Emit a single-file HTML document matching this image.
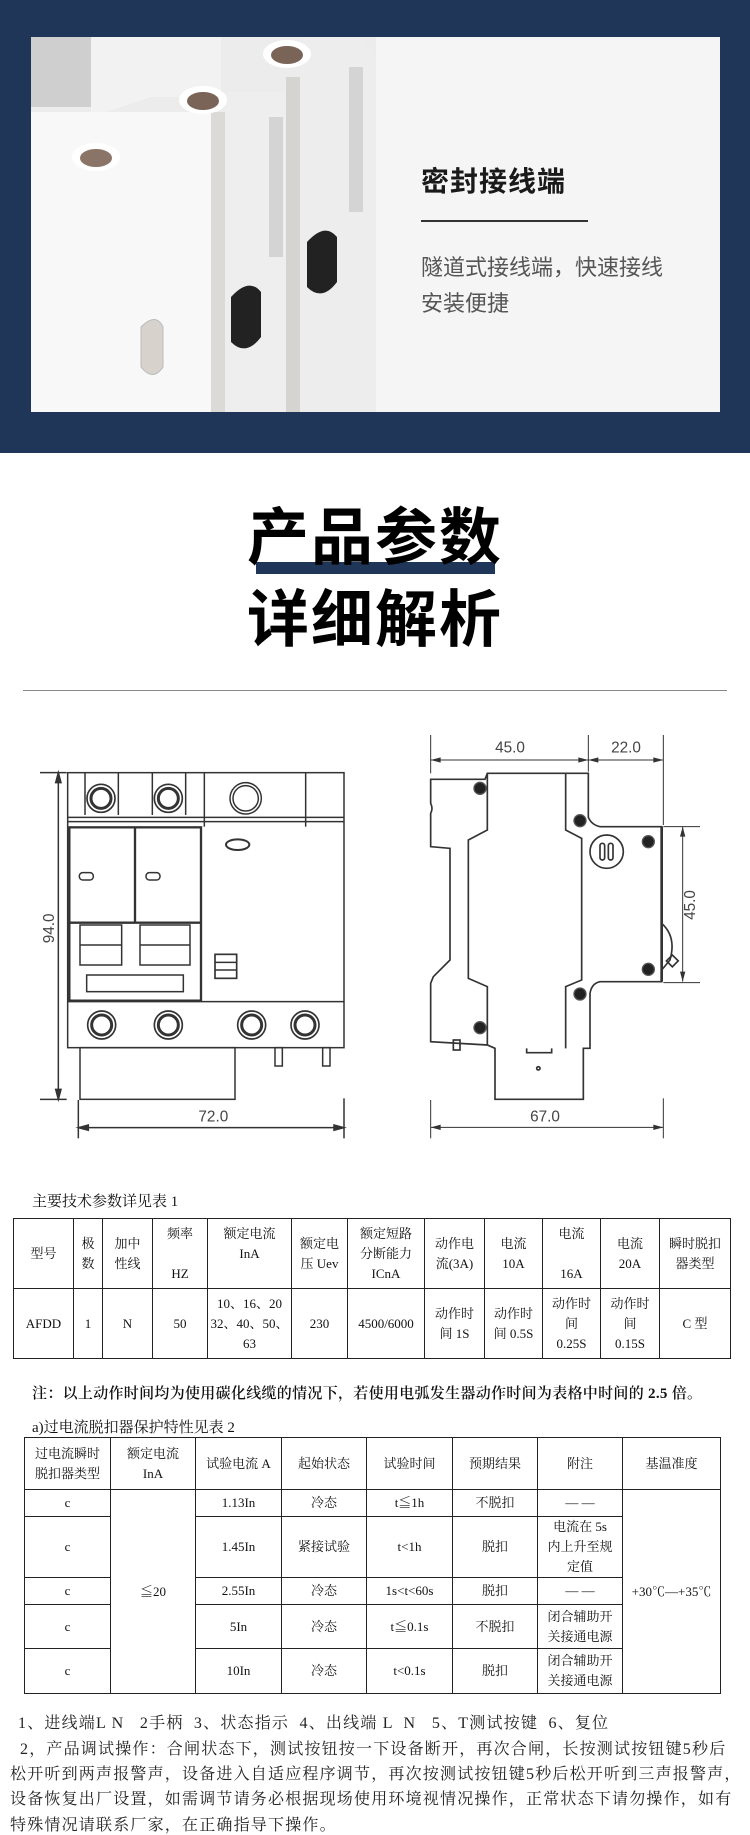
<!DOCTYPE html>
<html><head><meta charset="utf-8">
<style>
*{margin:0;padding:0;box-sizing:border-box}
body{width:750px;height:1832px;position:relative;background:#fff;font-family:"Liberation Serif","Noto Serif CJK SC",serif;color:#111;overflow:hidden}
.abs{position:absolute}
table{border-collapse:collapse;table-layout:fixed;position:absolute}
td{border:1.5px solid #222;text-align:center;vertical-align:middle;font-size:13px;line-height:20px;padding:0;white-space:nowrap}
.sans{font-family:"Liberation Sans","Noto Sans CJK SC",sans-serif}
.txt{position:absolute;white-space:nowrap;font-size:16px;letter-spacing:1.2px;color:#222}
</style></head><body>
<!-- top banner -->
<div class="abs" style="left:0;top:0;width:750px;height:453px;background:#1f3658"></div>
<div class="abs" style="left:31px;top:37px;width:689px;height:375px;background:#f5f5f5"></div>
<svg class="abs" style="left:31px;top:37px" width="345" height="375" viewBox="0 0 345 375">
 <rect x="0" y="0" width="345" height="375" fill="#ececec"/>
 <rect x="0" y="0" width="60" height="70" fill="#cfcfcf"/>
 <polygon points="60,0 190,0 190,60 120,60 60,80" fill="#f2f2f2"/>
 <polygon points="0,75 180,75 180,375 0,375" fill="#f8f8f8"/>
 <rect x="180" y="75" width="14" height="300" fill="#dcdad7"/>
 <polygon points="194,55 255,55 255,375 194,375" fill="#eeeeee"/>
 <rect x="238" y="80" width="14" height="140" fill="#d4d4d4"/>
 <rect x="255" y="40" width="14" height="335" fill="#d6d4d1"/>
 <polygon points="269,0 330,0 345,20 345,375 269,375" fill="#ededed"/>
 <rect x="318" y="30" width="14" height="145" fill="#d4d4d4"/>
 <ellipse cx="256" cy="17" rx="24" ry="14" fill="#fff"/><ellipse cx="256" cy="18" rx="16" ry="9" fill="#7a6458"/>
 <ellipse cx="172" cy="63" rx="24" ry="14" fill="#fff"/><ellipse cx="172" cy="64" rx="16" ry="9" fill="#7a6458"/>
 <ellipse cx="65" cy="120" rx="24" ry="14" fill="#fff"/><ellipse cx="65" cy="121" rx="16" ry="9" fill="#8a7468"/>
 <path d="M200 260 q18 -20 30 -5 v45 q-15 20 -30 5z" fill="#222"/>
 <path d="M276 205 q18 -20 30 -5 v45 q-15 20 -30 5z" fill="#222"/>
 <path d="M110 290 q15 -15 22 0 v40 q-10 15 -22 0z" fill="#d8d2cc" stroke="#bbb"/>
</svg>
<div class="abs sans" style="left:421px;top:160px;font-size:28px;font-weight:bold;color:#1a1a1a;letter-spacing:1px">密封接线端</div>
<div class="abs" style="left:421px;top:220px;width:167px;height:2px;background:#333"></div>
<div class="abs sans" style="left:421px;top:250px;font-size:22px;color:#555;line-height:36px">隧道式接线端，快速接线<br>安装便捷</div>

<!-- title -->
<div class="abs" style="left:256px;top:562px;width:239px;height:12px;background:#1f3658"></div>
<div class="abs sans" style="left:0;width:750px;top:502px;text-align:center;font-size:62px;font-weight:bold;line-height:74px;letter-spacing:2px;color:#000">产品参数</div>
<div class="abs sans" style="left:0;width:750px;top:584px;text-align:center;font-size:62px;font-weight:bold;line-height:74px;letter-spacing:2px;color:#000">详细解析</div>
<div class="abs" style="left:23px;top:690px;width:704px;height:1px;background:#888"></div>

<!-- left drawing -->
<svg class="abs" style="left:40px;top:730px" width="330" height="420" viewBox="0 0 990 1260" fill="none" stroke="#333" stroke-width="4.5">
 <rect x="83" y="128" width="829" height="825"/>
 <line x1="83" y1="262" x2="912" y2="262"/><line x1="83" y1="275" x2="912" y2="275"/>
 <line x1="493" y1="128" x2="493" y2="290"/><line x1="797" y1="128" x2="797" y2="290"/>
 <line x1="135" y1="128" x2="135" y2="255"/><line x1="235" y1="128" x2="235" y2="255"/>
 <line x1="337" y1="128" x2="337" y2="255"/><line x1="437" y1="128" x2="437" y2="255"/>
 <rect x="88" y="292" width="395" height="520" stroke-width="7"/>
 <line x1="285" y1="292" x2="285" y2="578" stroke-width="7"/>
 <line x1="88" y1="578" x2="483" y2="578" stroke-width="7"/>
 <rect x="120" y="585" width="125" height="120"/><rect x="300" y="585" width="150" height="120"/>
 <line x1="120" y1="645" x2="245" y2="645"/><line x1="300" y1="645" x2="450" y2="645"/>
 <rect x="140" y="735" width="290" height="50"/>
 <rect x="118" y="428" width="42" height="22" rx="10"/><rect x="318" y="428" width="42" height="22" rx="10"/>
 <ellipse cx="593" cy="344" rx="35" ry="16" stroke-width="6"/>
 <rect x="525" y="673" width="65" height="72" stroke-width="5"/>
 <line x1="525" y1="697" x2="590" y2="697"/><line x1="525" y1="720" x2="590" y2="720"/>
 <line x1="83" y1="815" x2="912" y2="815"/>
 <circle cx="617" cy="205" r="47"/><circle cx="617" cy="205" r="38"/>
 <g stroke-width="5">
 <circle cx="183" cy="205" r="42"/><circle cx="183" cy="205" r="30" stroke-width="9"/>
 <circle cx="385" cy="205" r="42"/><circle cx="385" cy="205" r="30" stroke-width="9"/>
 <circle cx="185" cy="885" r="42"/><circle cx="185" cy="885" r="30" stroke-width="9"/>
 <circle cx="385" cy="885" r="42"/><circle cx="385" cy="885" r="30" stroke-width="9"/>
 <circle cx="635" cy="885" r="42"/><circle cx="635" cy="885" r="30" stroke-width="9"/>
 <circle cx="795" cy="885" r="42"/><circle cx="795" cy="885" r="30" stroke-width="9"/>
 </g>
 <rect x="120" y="953" width="465" height="155"/>
 <rect x="705" y="953" width="22" height="55"/><rect x="848" y="953" width="22" height="55"/>
 <line x1="55" y1="128" x2="55" y2="1108"/><line x1="0" y1="128" x2="80" y2="128"/><line x1="0" y1="1108" x2="80" y2="1108"/>
 <line x1="115" y1="1193" x2="912" y2="1193"/><line x1="115" y1="1110" x2="115" y2="1225"/><line x1="912" y1="1105" x2="912" y2="1225"/>
 <path d="M55 128 l-8 30 h16z M55 1108 l-8 -30 h16z M115 1193 l30 -8 v16z M912 1193 l-30 -8 v16z" fill="#333"/>
 <text x="520" y="1175" fill="#444" stroke="none" font-size="46" text-anchor="middle" font-family="Liberation Sans">72.0</text>
 <text transform="translate(42 595) rotate(-90)" fill="#444" stroke="none" font-size="46" text-anchor="middle" font-family="Liberation Sans">94.0</text>
</svg>

<!-- right drawing -->
<svg class="abs" style="left:400px;top:730px" width="300" height="420" viewBox="0 0 900 1260" fill="none" stroke="#333" stroke-width="5">
 <path d="M92 148 H255 L262 130 H565 V262 Q575 285 600 290 H785 V580 Q830 620 810 690 L785 720 V755 H600 Q575 760 570 790 V955 H550 V1108 H285 V955 L262 945 L92 935 V760 L100 740 L150 690 V355 L92 350 V250 Q100 235 92 220 Z"/>
 <path d="M262 130 V300 L205 330 V745 L262 770 V945"/>
 <path d="M497 130 V300 L545 325 V750 L497 770 V955"/>
 <path d="M380 955 V968 H455 V955"/>
 <path d="M785 290 V755" stroke-width="8"/>
 <circle cx="620" cy="365" r="50"/>
 <rect x="600" y="340" width="14" height="50" rx="7"/><rect x="625" y="340" width="14" height="50" rx="7"/>
 <rect x="160" y="930" width="20" height="30"/>
 <circle cx="415" cy="1015" r="5"/>
 <rect x="805" y="680" width="25" height="25" transform="rotate(45 817 692)"/>
 <g fill="#222" stroke="#555" stroke-width="4">
  <circle cx="240" cy="175" r="18"/><circle cx="540" cy="272" r="18"/><circle cx="745" cy="335" r="18"/>
  <circle cx="745" cy="718" r="18"/><circle cx="540" cy="792" r="18"/><circle cx="240" cy="893" r="18"/>
 </g>
 <g stroke-width="3">
 <line x1="92" y1="15" x2="92" y2="130"/><line x1="565" y1="15" x2="565" y2="125"/><line x1="790" y1="15" x2="790" y2="285"/>
 <line x1="92" y1="90" x2="790" y2="90"/>
 <line x1="848" y1="290" x2="848" y2="755"/><line x1="790" y1="290" x2="900" y2="290"/><line x1="790" y1="758" x2="900" y2="758"/>
 <line x1="92" y1="1192" x2="790" y2="1192"/><line x1="92" y1="1110" x2="92" y2="1225"/><line x1="790" y1="1105" x2="790" y2="1225"/>
 </g>
 <path d="M92 90 l30 -8 v16z M565 90 l-30 -8 v16z M565 90 l30 -8 v16z M790 90 l-30 -8 v16z M848 290 l-8 30 h16z M848 755 l-8 -30 h16z M92 1192 l30 -8 v16z M790 1192 l-30 -8 v16z" fill="#333" stroke="none"/>
 <text x="330" y="68" fill="#444" stroke="none" font-size="46" text-anchor="middle" font-family="Liberation Sans">45.0</text>
 <text x="678" y="68" fill="#444" stroke="none" font-size="46" text-anchor="middle" font-family="Liberation Sans">22.0</text>
 <text x="435" y="1175" fill="#444" stroke="none" font-size="46" text-anchor="middle" font-family="Liberation Sans">67.0</text>
 <text transform="translate(885 525) rotate(-90)" fill="#444" stroke="none" font-size="46" text-anchor="middle" font-family="Liberation Sans">45.0</text>
</svg>

<!-- table 1 -->
<div class="abs" style="left:32px;top:1190px;font-size:15px">主要技术参数详见表 1</div>
<table style="left:13px;top:1218px;width:717px">
<colgroup><col style="width:60px"><col style="width:29px"><col style="width:50px"><col style="width:55px"><col style="width:84px"><col style="width:56px"><col style="width:77px"><col style="width:60px"><col style="width:58px"><col style="width:58px"><col style="width:59px"><col style="width:71px"></colgroup>
<tr style="height:70px"><td>型号</td><td>极<br>数</td><td>加中<br>性线</td><td>频率<br><br>HZ</td><td>额定电流<br>InA<br>&nbsp;</td><td>额定电<br>压 Uev</td><td>额定短路<br>分断能力<br>ICnA</td><td>动作电<br>流(3A)</td><td>电流<br>10A</td><td>电流<br><br>16A</td><td>电流<br>20A</td><td>瞬时脱扣<br>器类型</td></tr>
<tr style="height:70px"><td>AFDD</td><td>1</td><td>N</td><td>50</td><td>10、16、20<br>32、40、50、<br>63</td><td>230</td><td>4500/6000</td><td>动作时<br>间 1S</td><td>动作时<br>间 0.5S</td><td>动作时<br>间<br>0.25S</td><td>动作时<br>间<br>0.15S</td><td>C 型</td></tr>
</table>
<div class="abs" style="left:32px;top:1382px;font-size:15px;font-weight:600;white-space:nowrap;letter-spacing:0.3px">注：以上动作时间均为使用碳化线缆的情况下，若使用电弧发生器动作时间为表格中时间的 2.5 倍。</div>

<!-- table 2 -->
<div class="abs" style="left:32px;top:1416px;font-size:15px">a)过电流脱扣器保护特性见表 2</div>
<table style="left:24px;top:1437px;width:696px">
<colgroup><col style="width:86px"><col style="width:85px"><col style="width:86px"><col style="width:85px"><col style="width:86px"><col style="width:85px"><col style="width:85px"><col style="width:98px"></colgroup>
<tr style="height:52px"><td>过电流瞬时<br>脱扣器类型</td><td>额定电流<br>InA</td><td>试验电流 A</td><td>起始状态</td><td>试验时间</td><td>预期结果</td><td>附注</td><td>基温准度</td></tr>
<tr style="height:27px"><td>c</td><td rowspan="5">≦20</td><td>1.13In</td><td>冷态</td><td>t≦1h</td><td>不脱扣</td><td>— —</td><td rowspan="5">+30℃—+35℃</td></tr>
<tr style="height:61px"><td>c</td><td>1.45In</td><td>紧接试验</td><td>t&lt;1h</td><td>脱扣</td><td>电流在 5s<br>内上升至规<br>定值</td></tr>
<tr style="height:27px"><td>c</td><td>2.55In</td><td>冷态</td><td>1s&lt;t&lt;60s</td><td>脱扣</td><td>— —</td></tr>
<tr style="height:44px"><td>c</td><td>5In</td><td>冷态</td><td>t≦0.1s</td><td>不脱扣</td><td>闭合辅助开<br>关接通电源</td></tr>
<tr style="height:45px"><td>c</td><td>10In</td><td>冷态</td><td>t&lt;0.1s</td><td>脱扣</td><td>闭合辅助开<br>关接通电源</td></tr>
</table>

<div class="txt" style="left:18px;top:1710px">1、进线端L N &nbsp;&nbsp;2手柄 &nbsp;3、状态指示 &nbsp;4、出线端 L &nbsp;N &nbsp;&nbsp;5、T测试按键 &nbsp;6、复位</div>
<div class="txt" style="left:20px;top:1736px">2，产品调试操作：合闸状态下，测试按钮按一下设备断开，再次合闸，长按测试按钮键5秒后</div>
<div class="txt" style="left:10px;top:1761px">松开听到两声报警声，设备进入自适应程序调节，再次按测试按钮键5秒后松开听到三声报警声，</div>
<div class="txt" style="left:10px;top:1786px">设备恢复出厂设置，如需调节请务必根据现场使用环境视情况操作，正常状态下请勿操作，如有</div>
<div class="txt" style="left:10px;top:1812px">特殊情况请联系厂家，在正确指导下操作。</div>
</body></html>
